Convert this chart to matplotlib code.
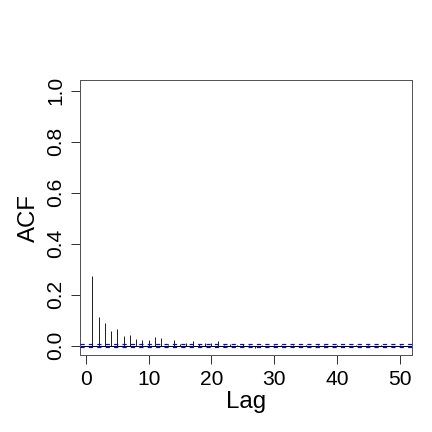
import matplotlib
matplotlib.use('Agg')
import matplotlib.pyplot as plt

plt.rcParams['font.family'] = ['Liberation Sans', 'DejaVu Sans']

# autocorrelation values (lags 1..50)
lags = list(range(1, 51))
acf = [0.273, 0.111, 0.090, 0.059, 0.064, 0.038, 0.040, 0.025, 0.022, 0.022,
       0.033, 0.029, 0.004, 0.022, 0.008, 0.010, 0.017, 0.006, 0.010, 0.010,
       0.018, 0.004, 0.008, 0.003, 0.008, 0.002, -0.010, 0.001, -0.002, 0.002,
       0.001, -0.001, 0.002, 0.000, 0.001, -0.002, 0.001, 0.002, -0.001, 0.001,
       0.000, -0.002, 0.001, 0.000, 0.002, -0.001, 0.001, 0.000, -0.001, 0.001]
conf = 0.005

fig = plt.figure(figsize=(6, 6), dpi=72)
ax = fig.add_axes([0.185, 0.178, 0.769, 0.637])

ax.vlines(lags, 0, acf, color='#222222', lw=1)
ax.axhline(0, color='black', lw=1, zorder=2)
ax.axhline(conf, color='blue', lw=1.2, ls=(0, (3.5, 3.5)), zorder=3)
ax.axhline(-conf, color='blue', lw=1.2, ls=(0, (3.5, 3.5)), zorder=3)

ax.set_xlim(-0.96, 51.96)
ax.set_ylim(-0.037, 1.043)

ax.set_xticks([0, 10, 20, 30, 40, 50])
ax.set_yticks([0.0, 0.2, 0.4, 0.6, 0.8, 1.0])
ax.set_yticklabels(['0.0', '0.2', '0.4', '0.6', '0.8', '1.0'], rotation=90, va='center')
ax.tick_params(direction='out', length=9, width=1, labelsize=21, pad=6, color='#333333')

for s in ax.spines.values():
    s.set_color('#555555')
    s.set_linewidth(1)

ax.set_xlabel('Lag', fontsize=24, labelpad=2)
ax.set_ylabel('ACF', fontsize=24, labelpad=6)

fig.savefig('out.png', dpi=72)
